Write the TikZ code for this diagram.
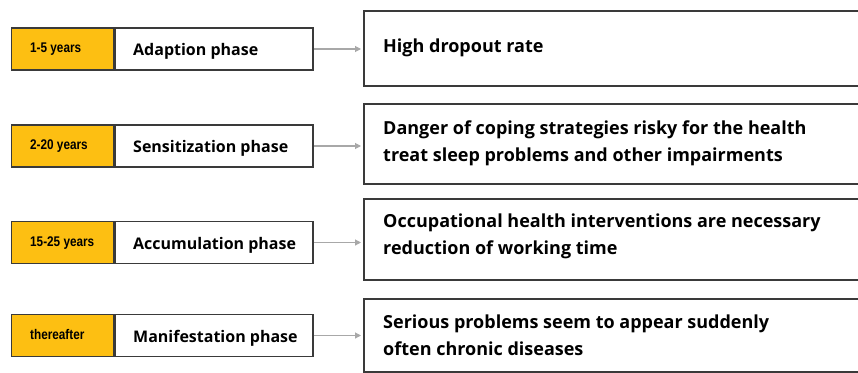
\documentclass[tikz,border=0pt]{standalone}
\usepackage{fontspec}
\setmainfont{Open Sans}[BoldFont={* Bold}]
\newfontfamily\narrowbold{Liberation Sans Bold}[FakeStretch=0.84]
\usetikzlibrary{arrows.meta}
\definecolor{phaseyellow}{HTML}{FDBF12}
\definecolor{frame}{HTML}{3A3A3A}
\definecolor{connector}{HTML}{A8A8A8}
\tikzset{
  yearbox/.style={draw=frame, line width=1.4pt, fill=phaseyellow, minimum width=102pt, minimum height=42pt, inner sep=0pt},
  phasebox/.style={draw=frame, line width=1.4pt, fill=white, minimum width=198pt, minimum height=42pt, inner sep=0pt},
  effectbox/.style={draw=frame, line width=1.8pt, fill=white, inner sep=0pt},
  yeartext/.style={anchor=base west, inner sep=0pt, font=\narrowbold\fontsize{14}{16}\selectfont},
  phasetext/.style={anchor=base west, inner sep=0pt, font=\bfseries\fontsize{16}{19}\selectfont},
  effecttext/.style={anchor=base west, inner sep=0pt, align=left, font=\bfseries\fontsize{18}{26.5}\selectfont},
  link/.style={draw=connector, line width=1.1pt, -{Triangle[length=6pt,width=6pt]}, shorten >=2pt},
}
\begin{document}
\begin{tikzpicture}[x=1pt, y=-1pt]
\useasboundingbox (0,0) rectangle (858,372);
\clip (0,0) rectangle (858,372);

% effect boxes on the right (running past the right edge)
\node[effectbox, minimum width=520pt, minimum height=75pt, anchor=north west] (e1) at (363,10) {};
\node[effectbox, minimum width=520pt, minimum height=80pt, anchor=north west] (e2) at (363,103) {};
\node[effectbox, minimum width=520pt, minimum height=81pt, anchor=north west] (e3) at (363,198) {};
\node[effectbox, minimum width=520pt, minimum height=73pt, anchor=north west] (e4) at (363,298) {};

% texts, placed by the baseline of their last line
\node[effecttext] (t1) at (383,52.5) {High dropout rate};
\node[effecttext] (t2) at (383,161) {Danger of coping strategies risky for the health\\treat sleep problems and other impairments};
\node[effecttext] (t3) at (383,254) {Occupational health interventions are necessary\\reduction of working time};
\node[effecttext] (t4) at (383,355) {Serious problems seem to appear suddenly\\often chronic diseases};

% phase rows
\foreach \i/\cy/\yrs/\ph in {1/49/1-5 years/Adaption phase,
                            2/146/2-20 years/Sensitization phase,
                            3/242.5/15-25 years/Accumulation phase,
                            4/335.5/thereafter/Manifestation phase}{
  \node[yearbox, anchor=west] (y\i) at (11,\cy) {};
  \node[phasebox, anchor=west] (p\i) at (y\i.east) {};
  \node[yeartext] (yl\i) at (30,\cy+3.5) {\yrs};
  \node[phasetext] (pl\i) at (133,\cy+6.5) {\ph};
  \draw[link] (p\i.east) -- (p\i.east -| e\i.west);
}
\end{tikzpicture}
\end{document}
